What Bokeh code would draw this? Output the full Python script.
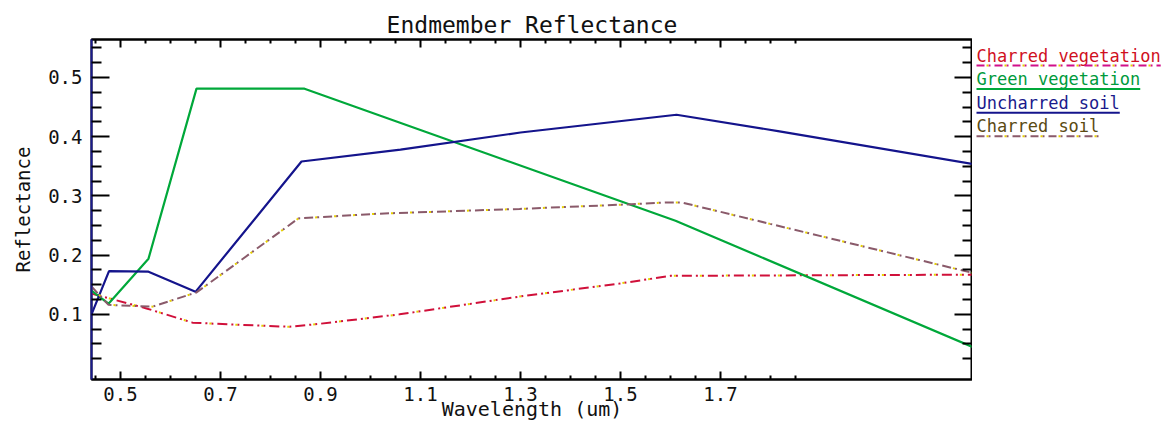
from bokeh.plotting import figure
from bokeh.models import Range1d, LinearAxis, FixedTicker
from bokeh.layouts import row
from bokeh.embed import file_html
from bokeh.resources import INLINE
from bokeh.core.properties import value

# ---------------- data ----------------
title_text = "Endmember Reflectance"
x_label = "Wavelength (um)"
y_label = "Reflectance"

x_major_ticks = [0.5, 0.7, 0.9, 1.1, 1.3, 1.5, 1.7]
x_minor_ticks = [0.45, 0.55, 0.6, 0.65, 0.75, 0.8, 0.85, 0.95, 1.0, 1.05,
                 1.15, 1.2, 1.25, 1.35, 1.4, 1.45, 1.55, 1.6, 1.65, 1.75, 1.8, 1.85]
y_major_ticks = [0.1, 0.2, 0.3, 0.4, 0.5]
y_minor_ticks = [0.025, 0.05, 0.075, 0.125, 0.15, 0.175, 0.225, 0.25, 0.275,
                 0.325, 0.35, 0.375, 0.425, 0.45, 0.475, 0.525, 0.55]

series_names = ["Charred vegetation", "Green vegetation", "Uncharred soil", "Charred soil"]

charred_veg_x = [0.442, 0.552, 0.644, 0.718, 0.838, 0.898, 1.058, 1.298, 1.498, 1.600, 2.204]
charred_veg_y = [0.135, 0.110, 0.086, 0.083, 0.079, 0.084, 0.100, 0.130, 0.152, 0.165, 0.167]

green_veg_x = [0.442, 0.476, 0.556, 0.652, 0.868, 1.610, 2.204]
green_veg_y = [0.140, 0.118, 0.194, 0.481, 0.481, 0.258, 0.045]

uncharred_soil_x = [0.442, 0.477, 0.556, 0.650, 0.862, 1.060, 1.300, 1.612, 1.818, 2.204]
uncharred_soil_y = [0.100, 0.173, 0.172, 0.138, 0.358, 0.378, 0.407, 0.437, 0.409, 0.354]

charred_soil_x = [0.442, 0.476, 0.564, 0.652, 0.856, 1.018, 1.298, 1.498, 1.592, 1.622, 2.204]
charred_soil_y = [0.147, 0.116, 0.113, 0.137, 0.262, 0.270, 0.278, 0.285, 0.289, 0.289, 0.170]

# ---------------- styles ----------------
FONT = "DejaVu Sans Mono"
text_colors = ["#D0101E", "#009A3C", "#1A1A8C", "#5A4A12"]

p = figure(frame_width=881, frame_height=340,
           x_range=Range1d(0.442, 2.204), y_range=Range1d(-0.010, 0.564),
           output_backend="svg", toolbar_location=None,
           min_border_left=91, min_border_right=0, min_border_top=39, min_border_bottom=37,
           background_fill_color="white", border_fill_color="white")
p.title.text = title_text
p.title.align = "center"
p.title.text_font = FONT
p.title.text_font_size = "23px"
p.title.text_font_style = "normal"
p.title.text_color = "#111111"
p.title.standoff = 3
p.grid.visible = False
p.outline_line_color = "black"
p.outline_line_width = 2

xt = FixedTicker(ticks=x_major_ticks, minor_ticks=x_minor_ticks)
yt = FixedTicker(ticks=y_major_ticks, minor_ticks=y_minor_ticks)

xa = p.xaxis[0]
xa.ticker = xt
xa.axis_label = x_label
xa.axis_label_text_font = FONT
xa.axis_label_text_font_size = "20px"
xa.axis_label_text_font_style = "normal"
xa.axis_label_text_color = "#111111"
xa.axis_label_standoff = -7
xa.major_label_text_font = FONT
xa.major_label_text_font_size = "19px"
xa.major_label_text_color = "#111111"
xa.major_label_standoff = 7
xa.major_tick_in = 8
xa.major_tick_out = 0
xa.minor_tick_in = 4
xa.minor_tick_out = 0
xa.axis_line_width = 2
xa.major_tick_line_width = 2
xa.minor_tick_line_width = 2

ya = p.yaxis[0]
ya.ticker = yt
ya.axis_label = y_label
ya.axis_label_text_font = FONT
ya.axis_label_text_font_size = "19px"
ya.axis_label_text_font_style = "normal"
ya.axis_label_text_color = "#111111"
ya.axis_label_standoff = 11
ya.major_label_text_font = FONT
ya.major_label_text_font_size = "19px"
ya.major_label_text_color = "#111111"
ya.major_label_standoff = 9
ya.major_tick_in = 18
ya.major_tick_out = 0
ya.minor_tick_in = 10
ya.minor_tick_out = 0
ya.axis_line_width = 2
ya.axis_line_color = "#1A1A8C"
ya.major_tick_line_width = 2
ya.minor_tick_line_width = 2

top = LinearAxis(ticker=xt, major_label_overrides={t: "" for t in x_major_ticks},
                 major_label_text_font_size="0px", major_label_standoff=0,
                 major_tick_in=8, major_tick_out=0, minor_tick_in=4, minor_tick_out=0,
                 axis_line_width=2, major_tick_line_width=2, minor_tick_line_width=2)
p.add_layout(top, "above")
right = LinearAxis(ticker=yt, major_label_overrides={t: "" for t in y_major_ticks},
                   major_label_text_font_size="0px", major_label_standoff=0,
                   major_tick_in=18, major_tick_out=0, minor_tick_in=10, minor_tick_out=0,
                   axis_line_width=2, major_tick_line_width=2, minor_tick_line_width=2)
p.add_layout(right, "right")

# series
p.line(charred_veg_x, charred_veg_y, line_color="#D0103A", line_width=2, line_dash="10 4 2 4 2 4")
p.line(charred_veg_x, charred_veg_y, line_color="#E6D400", line_width=2, line_dash="2 24",
       line_dash_offset=-18)
p.line(green_veg_x, green_veg_y, line_color="#00A83A", line_width=2.2)
p.line(uncharred_soil_x, uncharred_soil_y, line_color="#14148C", line_width=2.2)
p.line(charred_soil_x, charred_soil_y, line_color="#8A5A6A", line_width=2, line_dash="9 4 2 4")
p.line(charred_soil_x, charred_soil_y, line_color="#E6D000", line_width=2, line_dash="2 17",
       line_dash_offset=-11)

# ---------------- legend (text with underline) ----------------
LW = 190
LH = 200
lg = figure(frame_width=LW, frame_height=LH, x_range=Range1d(0, LW), y_range=Range1d(LH, 0),
            output_backend="svg", toolbar_location=None, title=None,
            min_border_left=0, min_border_right=0, min_border_top=0, min_border_bottom=0,
            x_axis_location=None, y_axis_location=None, outline_line_color=None)
lg.grid.visible = False

char_w = 0.602 * 17
lx = [4] * 4
ly = [16 + 23.6 * i for i in range(4)]
lg.text(lx, ly, text=series_names, text_color=text_colors, text_font=value(FONT),
        text_font_size="17px", text_baseline="middle", text_align="left")
ux1 = [4 + len(n) * char_w for n in series_names]
uy = [y + 10 for y in ly]
# solid underlines for green / uncharred, dash-dot for charred
lg.segment([lx[1], lx[2]], [uy[1], uy[2]], [ux1[1], ux1[2]], [uy[1], uy[2]],
           line_color=["#00A83A", "#14148C"], line_width=2)
lg.segment([lx[0], lx[3]], [uy[0], uy[3]], [ux1[0], ux1[3]], [uy[0], uy[3]],
           line_color=["#D0108A", "#8A5A6A"], line_width=2, line_dash="8 4 2 4")
lg.segment([lx[0], lx[3]], [uy[0], uy[3]], [ux1[0], ux1[3]], [uy[0], uy[3]],
           line_color="#E6D000", line_width=2, line_dash="2 16", line_dash_offset=-10)

layout = row(p, lg)
open("out.html", "w").write(file_html(layout, INLINE))
